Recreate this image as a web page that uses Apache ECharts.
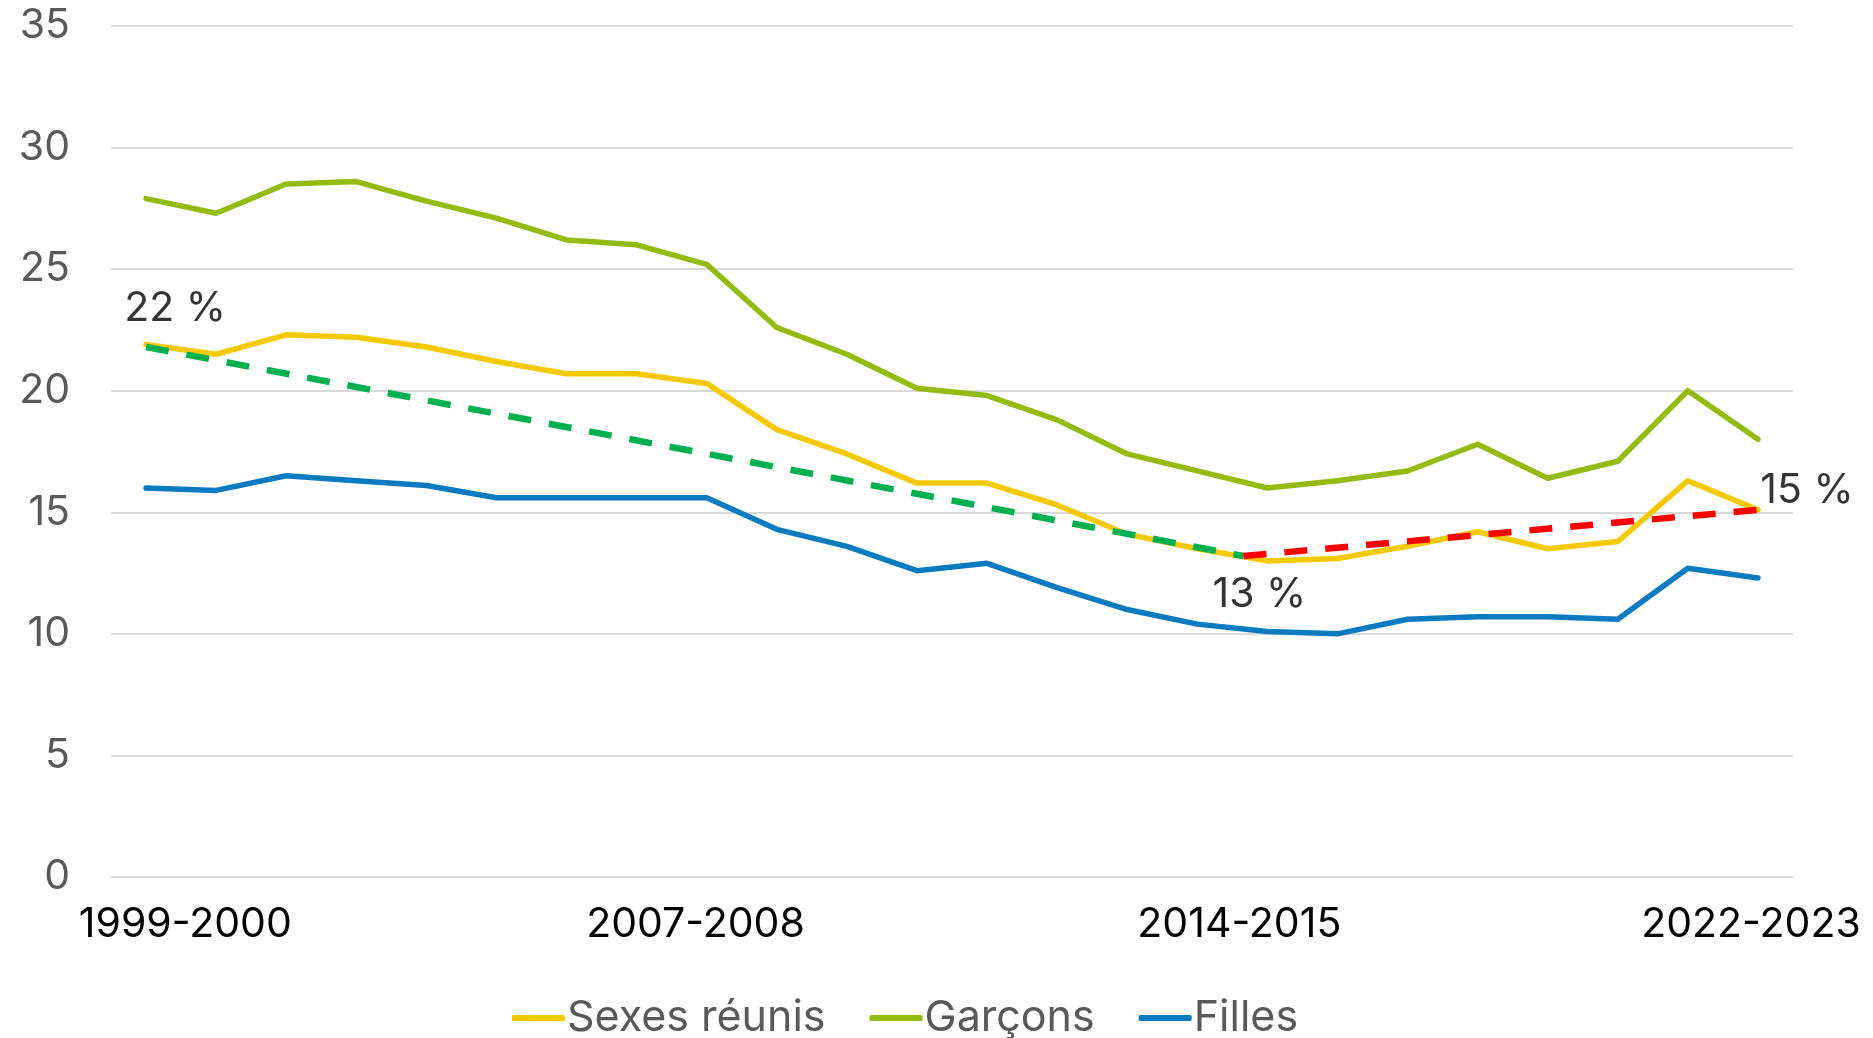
<!DOCTYPE html>
<html>
<head>
<meta charset="utf-8">
<title>Sexes réunis, garçons, filles</title>
<script src="https://cdn.jsdelivr.net/npm/echarts@6/dist/echarts.min.js"></script>
<style>
  html, body { margin: 0; padding: 0; background: #fff; }
  #chartContainer { width: 1873px; height: 1038px; }
</style>
</head>
<body>
<div id="chartContainer"></div>
<script>
// années scolaires 1999-2000 ... 2022-2023
const years = [
  "1999-2000", "2000-2001", "2001-2002", "2002-2003", "2003-2004", "2004-2005",
  "2005-2006", "2006-2007", "2007-2008", "2008-2009", "2009-2010", "2010-2011",
  "2011-2012", "2012-2013", "2013-2014", "2014-2015", "2015-2016", "2016-2017",
  "2017-2018", "2018-2019", "2019-2020", "2020-2021", "2021-2022", "2022-2023"
];

const sexesReunis = [21.9, 21.5, 22.3, 22.2, 21.8, 21.2, 20.7, 20.7, 20.3, 18.4, 17.4, 16.2,
  16.2, 15.3, 14.1, 13.5, 13.0, 13.1, 13.6, 14.2, 13.5, 13.8, 16.3, 15.1];
const garcons = [27.9, 27.3, 28.5, 28.6, 27.8, 27.1, 26.2, 26.0, 25.2, 22.6, 21.5, 20.1,
  19.8, 18.8, 17.4, 16.7, 16.0, 16.3, 16.7, 17.8, 16.4, 17.1, 20.0, 18.0];
const filles = [16.0, 15.9, 16.5, 16.3, 16.1, 15.6, 15.6, 15.6, 15.6, 14.3, 13.6, 12.6,
  12.9, 11.9, 11.0, 10.4, 10.1, 10.0, 10.6, 10.7, 10.7, 10.6, 12.7, 12.3];

// tendances (position en rang d'année, valeur)
const trendBaisse = [[0, 21.8], [15.66, 13.2]];
const trendHausse = [[15.66, 13.2], [23, 15.1]];

// étiquettes
const xLabels = ["1999-2000", "2007-2008", "2014-2015", "2022-2023"];
const annotIdx = [0, 16, 23];
const annotText = ["22 %", "13 %", "15 %"];

// placement des étiquettes de l'axe x (comme sur l'original)
const xLabelPos = [0.56, 7.84, 15.6, 22.9];
const annotOffset = [[29, -36], [-8, 34], [49, -19]];

const FONT = "Inter";
const FSIZE = 41;

var myChart = echarts.init(document.getElementById("chartContainer"));

const toPoints = (arr) => arr.map((v, i) => [i, v]);

var option = {
  animation: false,
  grid: { left: 111, right: 80, top: 26, bottom: 161 },
  legend: {
    data: ["Sexes réunis", "Garçons", "Filles"],
    left: 507,
    top: 988,
    icon: "roundRect",
    itemWidth: 53,
    itemHeight: 6,
    itemGap: 44,
    textStyle: { fontFamily: FONT, fontSize: 43, color: "#595959", lineHeight: 50, padding: [0, 0, 0, -3] }
  },
  xAxis: {
    type: "value",
    min: -0.5,
    max: 23.5,
    axisLine: { show: false },
    axisTick: { show: false },
    splitLine: { show: false },
    axisLabel: {
      customValues: xLabelPos,
      formatter: (v) => {
        const k = xLabelPos.indexOf(v);
        return k >= 0 ? xLabels[k] : "";
      },
      fontFamily: FONT,
      fontSize: FSIZE,
      color: "#000",
      margin: 27
    }
  },
  yAxis: {
    type: "value",
    min: 0,
    max: 35,
    interval: 5,
    axisLine: { show: false },
    axisTick: { show: false },
    splitLine: { lineStyle: { color: "#d9d9d9", width: 2 } },
    axisLabel: { fontFamily: FONT, fontSize: FSIZE, color: "#595959", margin: 41 }
  },
  series: [
    {
      name: "Sexes réunis",
      type: "line",
      data: toPoints(sexesReunis),
      showSymbol: false,
      lineStyle: { color: "#F5C900", width: 5.5, cap: "round", join: "round" },
      itemStyle: { color: "#F5C900" },
      z: 3
    },
    {
      name: "Garçons",
      type: "line",
      data: toPoints(garcons),
      showSymbol: false,
      lineStyle: { color: "#93BB12", width: 5.5, cap: "round", join: "round" },
      itemStyle: { color: "#93BB12" },
      z: 2
    },
    {
      name: "Filles",
      type: "line",
      data: toPoints(filles),
      showSymbol: false,
      lineStyle: { color: "#0B7BC1", width: 5.5, cap: "round", join: "round" },
      itemStyle: { color: "#0B7BC1" },
      z: 2
    },
    {
      name: "tendance baisse",
      type: "line",
      data: trendBaisse,
      showSymbol: false,
      lineStyle: { color: "#00B050", width: 6.5, type: [23, 18] },
      z: 4
    },
    {
      name: "tendance hausse",
      type: "line",
      data: trendHausse,
      showSymbol: false,
      lineStyle: { color: "#FF0000", width: 6.5, type: [23, 18] },
      z: 4
    },
    {
      name: "annotations",
      type: "scatter",
      symbolSize: 1,
      itemStyle: { color: "rgba(0,0,0,0)" },
      silent: true,
      data: annotIdx.map((i, k) => ({
        value: [i, sexesReunis[i]],
        label: {
          show: true,
          position: "inside",
          offset: annotOffset[k],
          formatter: annotText[k],
          fontFamily: FONT,
          fontSize: FSIZE,
          color: "#000"
        }
      })),
      z: 5
    }
  ]
};

myChart.setOption(option);
</script>
</body>
</html>
